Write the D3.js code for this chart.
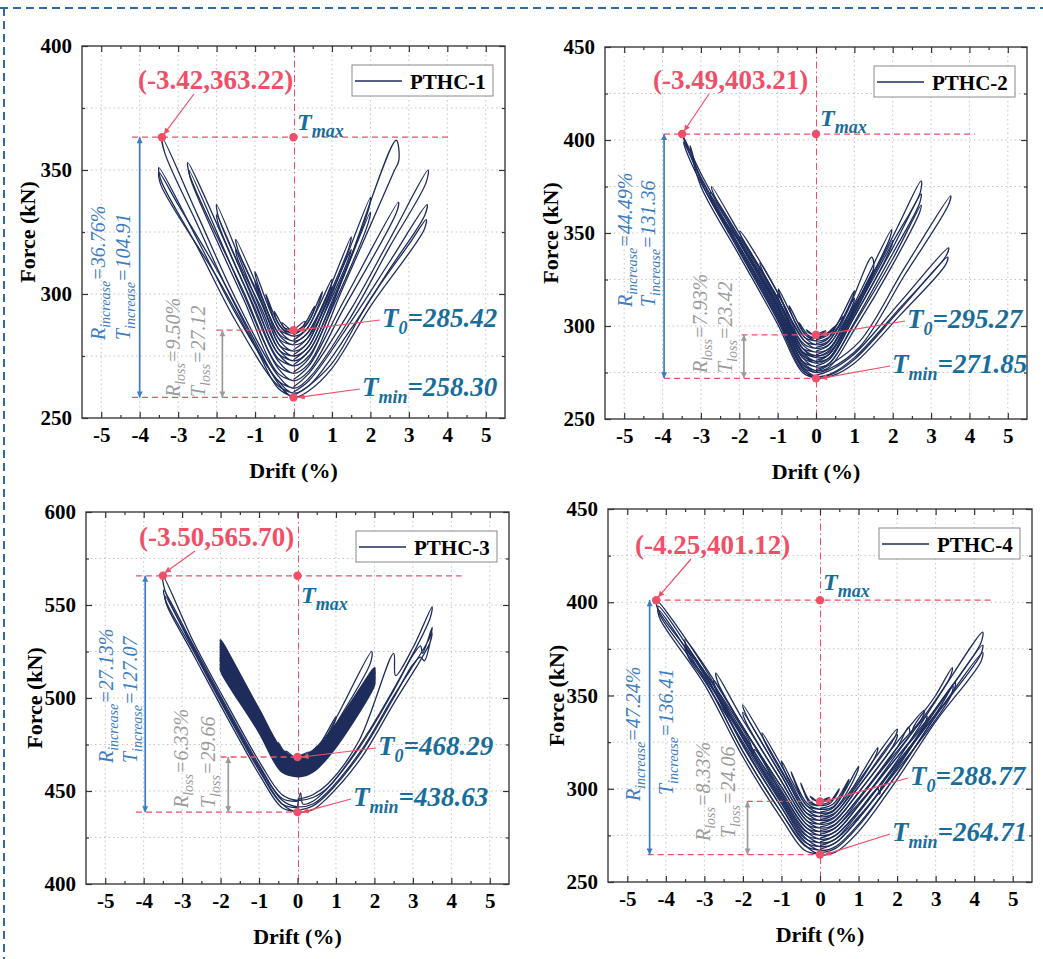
<!DOCTYPE html>
<html><head><meta charset="utf-8">
<script src="https://cdn.jsdelivr.net/npm/d3@7"></script>
<style>body{margin:0;background:#fff}svg{display:block}</style>
</head><body>
<svg id="chart" width="1043" height="959"></svg>
<script>
// ---------------- DATA ----------------
const specimens = ["PTHC-1", "PTHC-2", "PTHC-3", "PTHC-4"];
const xTicks = [-5, -4, -3, -2, -1, 0, 1, 2, 3, 4, 5];
const xMinorTicks = [-4.5, -3.5, -2.5, -1.5, -0.5, 0.5, 1.5, 2.5, 3.5, 4.5];
const xDomain = [-5.5, 5.5];
const yDomains = [[250, 400], [250, 450], [400, 600], [250, 450]];
const yTicksList = [[250, 300, 350, 400], [250, 300, 350, 400, 450], [400, 450, 500, 550, 600], [250, 300, 350, 400, 450]];

const peakDrift = [-3.42, -3.49, -3.50, -4.25];
const peakForce = [363.22, 403.21, 565.70, 401.12];
const peakText = ["(-3.42,363.22)", "(-3.49,403.21)", "(-3.50,565.70)", "(-4.25,401.12)"];
const t0Text = ["285.42", "295.27", "468.29", "288.77"];
const t0Marker = [285.42, 295.27, 468.29, 293.2];
const tminForce = [258.30, 271.85, 438.63, 264.71];
const tminText = ["258.30", "271.85", "438.63", "264.71"];
const rIncrease = ["36.76%", "44.49%", "27.13%", "47.24%"];
const tIncrease = ["104.91", "131.36", "127.07", "136.41"];
const rLoss = ["9.50%", "7.93%", "6.33%", "8.33%"];
const tLoss = ["27.12", "23.42", "29.66", "24.06"];

const pthc1Loops = [
 [[0,285.4],[0.3,289],[0.25,287],[0,285],[-0.3,288.5],[-0.25,286.5],[0,285.2]],
 [[0,284.5],[0.25,287],[0.55,295],[0.5,292],[0.25,286],[0,284],[-0.25,286.5],[-0.5,293],[-0.45,290],[-0.25,285.5],[0,284]],
 [[0,283.5],[0.35,288],[0.75,301],[0.7,298],[0.35,286],[0,283],[-0.35,287],[-0.72,300],[-0.67,297],[-0.35,285.5],[0,283]],
 [[0,281.5],[0.35,286],[1.0,306],[0.95,302],[0.35,284],[0,281],[-0.35,285],[-1.0,309],[-0.95,305],[-0.35,283.5],[0,281]],
 [[0,280],[0.35,284],[1.0,303],[0.95,300],[0.35,282],[0,279.5],[-0.35,283],[-1.0,305],[-0.95,302],[-0.35,281.5],[0,279.5]],
 [[0,277.5],[0.35,282],[0.8,297],[1.5,323],[1.45,319],[0.8,295],[0.35,280],[0,277],[-0.35,281],[-0.8,298],[-1.5,322],[-1.45,318],[-0.8,296],[-0.35,279],[0,277]],
 [[0,275.5],[0.35,280],[0.8,294],[1.5,318],[1.45,315],[0.8,292],[0.35,278],[0,275],[-0.35,279],[-0.8,295],[-1.5,318],[-1.45,314],[-0.8,293],[-0.35,277],[0,275]],
 [[0,273.5],[0.4,279],[1.0,300],[2.0,339],[1.95,334],[1.0,297],[0.4,277],[0,273],[-0.4,278],[-1.0,299],[-2.0,336],[-1.95,331],[-1.0,297],[-0.4,276],[0,273]],
 [[0,271.5],[0.4,277],[1.0,296],[2.0,333],[1.95,329],[1.0,294],[0.4,275],[0,271],[-0.4,276],[-1.0,296],[-2.0,332],[-1.95,328],[-1.0,294],[-0.4,274],[0,271]],
 [[0,268.5],[0.4,274],[1.3,307],[2.67,362],[2.74,354],[2.6,349],[1.3,303],[0.4,272],[0,268],[-0.4,273],[-1.3,304],[-2.75,353],[-2.7,348],[-1.3,301],[-0.4,271],[0,268]],
 [[0,265.5],[0.4,271],[1.3,297],[2.73,337],[2.68,333],[1.3,294],[0.4,269],[0,265],[-0.4,270],[-1.3,300],[-2.72,350],[-2.67,346],[-1.3,298],[-0.4,268],[0,265]],
 [[0,262.5],[0.4,268],[1.5,294],[2.5,322],[3.5,350],[3.45,345],[2.5,319],[1.5,291],[0.4,266],[0,262],[-0.4,267],[-1.5,298],[-2.5,332],[-3.42,363.22],[-3.35,357],[-2.5,328],[-1.5,295],[-0.4,265],[0,262]],
 [[0,260.5],[0.4,265],[1.5,289],[2.5,313],[3.47,336],[3.42,332],[2.5,310],[1.5,286],[0.4,263],[0,260],[-0.4,265],[-1.5,292],[-2.5,322],[-3.5,351],[-3.45,346],[-2.5,319],[-1.5,289],[-0.4,263],[0,260]],
 [[0,259],[0.4,263],[1.0,272],[2.0,298],[3.0,320],[3.45,330],[3.4,326],[2.0,295],[1.0,270],[0.4,261],[0,258.3],[-0.4,264],[-1.0,281],[-2.0,310],[-3.0,336],[-3.5,349],[-3.45,344],[-2.0,307],[-1.0,279],[-0.4,262],[0,258.5]]
];

const pthc2Loops = [
 [[0,295.3],[0.25,297.5],[0.2,296.5],[0,294.5],[-0.25,298],[-0.2,296.5],[0,294.8]],
 [[0,294],[0.25,295.5],[0.5,300],[0.45,298],[0.2,294.5],[0,293.5],[-0.2,295],[-0.45,302],[-0.4,299],[-0.2,294],[0,293.5]],
 [[0,292.5],[0.3,295],[0.7,305],[0.65,302],[0.3,293.5],[0,292],[-0.3,296],[-0.7,311],[-0.65,307],[-0.3,294],[0,292]],
 [[0,290.5],[0.3,293],[1.0,319],[0.95,315],[0.3,291.5],[0,290],[-0.3,294],[-0.98,320],[-0.93,316],[-0.3,292],[0,290]],
 [[0,288.5],[0.3,291],[1.0,315],[0.95,311],[0.3,289.5],[0,288],[-0.3,292],[-1.0,317],[-0.95,313],[-0.3,290],[0,288]],
 [[0,286.5],[0.35,290],[0.8,307],[1.45,337],[1.5,331],[0.8,304],[0.35,288],[0,286],[-0.35,290],[-0.8,310],[-1.46,334],[-1.4,330],[-0.8,307],[-0.35,288],[0,286]],
 [[0,284.5],[0.35,288],[0.8,302],[1.5,330],[1.45,326],[0.8,299],[0.35,286],[0,284],[-0.35,288],[-0.8,306],[-1.5,331],[-1.45,327],[-0.8,303],[-0.35,286],[0,284]],
 [[0,283.5],[0.35,287],[1.0,312],[1.97,352],[1.92,347],[1.0,309],[0.35,285],[0,283],[-0.35,288],[-1.0,318],[-1.98,351],[-1.93,347],[-1.0,315],[-0.35,286],[0,283]],
 [[0,281.5],[0.35,285],[1.0,308],[2.0,346],[1.95,342],[1.0,305],[0.35,283],[0,281],[-0.35,286],[-1.0,315],[-2.0,348],[-1.95,344],[-1.0,312],[-0.35,284],[0,281]],
 [[0,280.5],[0.35,285],[1.0,310],[2.0,348],[2.74,378],[2.72,372],[2.0,345],[1.0,307],[0.35,283],[0,280],[-0.35,285],[-1.0,314],[-2.0,350],[-2.72,375],[-2.67,371],[-2.0,347],[-1.0,311],[-0.35,283],[0,280]],
 [[0,278.5],[0.35,282],[1.0,305],[2.0,342],[2.74,371],[2.7,366],[2.0,339],[1.0,302],[0.35,280],[0,278],[-0.35,283],[-1.0,312],[-2.0,348],[-2.75,372],[-2.7,367],[-2.0,345],[-1.0,309],[-0.35,281],[0,278]],
 [[0,276.5],[0.35,280],[1.0,301],[2.0,336],[2.74,365],[2.7,361],[2.0,333],[1.0,298],[0.35,278],[0,276],[-0.35,281],[-1.0,310],[-2.0,346],[-2.75,370],[-2.7,366],[-2.0,343],[-1.0,307],[-0.35,279],[0,276]],
 [[0,275.5],[0.35,279],[1.15,292],[2.3,331],[3.51,370],[3.45,365],[2.3,327],[1.15,289],[0.35,277],[0,275],[-0.35,280],[-1.0,308],[-2.0,345],[-3.0,382],[-3.49,403.21],[-3.4,398],[-3.0,379],[-2.0,342],[-1.0,305],[-0.35,278],[0,275]],
 [[0,273.5],[0.35,276],[1.0,285],[2.2,313],[3.45,342],[3.4,338],[2.2,310],[1.0,283],[0.35,274],[0,273],[-0.35,278],[-1.0,306],[-2.0,343],[-3.0,380],[-3.45,399],[-3.38,394],[-3.0,377],[-2.0,340],[-1.0,303],[-0.35,276],[0,273]],
 [[0,272.5],[0.4,274],[1.0,282],[2.2,309],[3.43,337],[3.38,333],[2.2,306],[1.0,280],[0.4,273],[0,271.85],[-0.35,277],[-1.0,304],[-2.0,341],[-3.0,378],[-3.28,397],[-3.25,393],[-3.0,375],[-2.0,338],[-1.0,301],[-0.35,275],[0,272]]
];

const pthc3Loops = [
 [[0,468.3],[0.3,471],[0.25,469.5],[0,467.5],[-0.3,471.5],[-0.25,469.5],[0,468]],
 [[0,467.5],[0.3,469],[0.5,474],[0.45,472],[0.25,468],[0,467],[-0.25,468.5],[-0.5,476],[-0.45,473],[-0.25,468],[0,467]],
 [[0,466.5],[0.4,470],[1.0,490],[0.95,486],[0.4,468],[0,466],[-0.4,470],[-1.0,494],[-0.95,490],[-0.4,468.5],[0,466]],
 [[0,468],[0.4,471.5],[1.0,485.5],[2.0,516],[1.95,513],[1.0,483.5],[0.4,470],[0,467.5],[-0.4,472],[-1.0,493.5],[-2.0,531],[-1.95,528],[-1.0,491.5],[-0.4,470],[0,467.5]],
 [[0,466.5],[0.4,470],[1.0,484],[2.0,515],[1.95,512],[1.0,482],[0.4,468.5],[0,466],[-0.4,470.5],[-1.0,492],[-2.0,529],[-1.95,526],[-1.0,490],[-0.4,468.5],[0,466]],
 [[0,465.5],[0.4,469],[1.0,483],[2.0,514],[1.95,511],[1.0,481],[0.4,467.5],[0,465],[-0.4,469.5],[-1.0,491],[-2.0,527.5],[-1.95,524.5],[-1.0,489],[-0.4,467.5],[0,465]],
 [[0,464.5],[0.4,468],[1.0,482],[2.0,513.5],[1.95,510.5],[1.0,480],[0.4,466.5],[0,464],[-0.4,468.5],[-1.0,490],[-2.0,526],[-1.95,523],[-1.0,488],[-0.4,466.5],[0,464]],
 [[0,463.5],[0.4,467],[1.0,481],[2.0,512.5],[1.95,509.5],[1.0,479],[0.4,465.5],[0,463],[-0.4,467.5],[-1.0,489],[-2.0,524.5],[-1.95,521.5],[-1.0,487],[-0.4,465.5],[0,463]],
 [[0,462.5],[0.4,466],[1.0,480],[2.0,511.5],[1.95,508.5],[1.0,478],[0.4,464.5],[0,462],[-0.4,466.5],[-1.0,488],[-2.0,523],[-1.95,520],[-1.0,486],[-0.4,464.5],[0,462]],
 [[0,461.5],[0.4,465],[1.0,479],[2.0,511],[1.95,508],[1.0,477],[0.4,463.5],[0,461],[-0.4,465.5],[-1.0,487],[-2.0,521.5],[-1.95,518.5],[-1.0,485],[-0.4,463.5],[0,461]],
 [[0,460.5],[0.4,464],[1.0,478],[2.0,510],[1.95,507],[1.0,476],[0.4,462.5],[0,460],[-0.4,464.5],[-1.0,486],[-2.0,520],[-1.95,517],[-1.0,484],[-0.4,462.5],[0,460]],
 [[0,459.5],[0.4,463],[1.0,477],[2.0,509],[1.95,506],[1.0,475],[0.4,461.5],[0,459],[-0.4,463.5],[-1.0,485],[-2.0,518],[-1.95,515],[-1.0,483],[-0.4,461.5],[0,459]],
 [[0,458.5],[0.4,462],[1.0,476],[2.0,508],[1.95,505],[1.0,474],[0.4,460.5],[0,458],[-0.4,462.5],[-1.0,484],[-2.0,516],[-1.95,513],[-1.0,482],[-0.4,460.5],[0,458]],
 [[0,462.5],[0.4,467],[1.0,489],[1.93,525],[1.9,519],[1.0,486],[0.4,465],[0,462]],
 [[0,445.5],[0.4,448],[0.8,454],[1.6,477],[2.5,524],[2.55,512],[3.0,527],[3.5,549],[3.45,543],[2.8,516],[1.6,474],[0.8,452],[0.4,446.5],[0,445],[-0.4,448],[-0.97,465],[-1.84,497],[-2.7,530],[-3.5,565.7],[-3.45,558],[-2.7,527],[-1.84,494],[-0.97,462],[-0.4,446],[0,444.5]],
 [[0,442],[0.08,449],[0.14,443],[0.4,444.5],[0.76,451],[1.63,474],[2.5,504],[3.0,523],[3.2,528],[3.25,524],[3.5,538],[3.45,533],[2.5,501],[1.63,471],[0.76,449],[0.4,443],[0,441.5],[-0.4,445],[-0.97,463],[-1.84,495],[-2.7,528],[-3.48,558],[-3.42,552],[-2.7,525],[-1.84,492],[-0.97,460],[-0.4,443],[0,441]],
 [[0,439.5],[0.4,442],[0.76,448],[1.63,470],[2.5,500],[3.0,518],[3.2,522],[3.3,520],[3.5,535],[3.45,530],[2.5,497],[1.63,467],[0.76,446],[0.4,440],[0,438.63],[-0.4,443],[-0.97,461],[-1.84,493],[-2.7,526],[-3.45,555],[-3.4,550],[-2.7,523],[-1.84,490],[-0.97,458],[-0.4,441],[0,439]]
];

const pthc4Loops = [
 [[0,293.2],[0.25,295.5],[0.2,294.5],[0,292.5],[-0.25,296],[-0.2,294.5],[0,293]],
 [[0,291.5],[0.25,293],[0.5,300],[0.45,297.5],[0.25,292],[0,291],[-0.25,293],[-0.5,303],[-0.45,300],[-0.25,292],[0,291]],
 [[0,289.5],[0.35,292],[0.75,305],[0.7,302],[0.35,290.5],[0,289],[-0.35,292.5],[-0.75,309],[-0.7,306],[-0.35,291],[0,289]],
 [[0,287.5],[0.35,290],[1.0,312],[0.95,308],[0.35,288.5],[0,287],[-0.35,291],[-1.0,315],[-0.95,311],[-0.35,289],[0,287]],
 [[0,285.5],[0.35,288],[0.8,299],[1.5,322],[1.45,318],[0.8,297],[0.35,286.5],[0,285],[-0.35,289],[-0.8,305],[-1.5,330],[-1.45,326],[-0.8,302],[-0.35,287],[0,285]],
 [[0,283.5],[0.35,286],[1.0,304],[2.0,332],[1.95,328],[1.0,301],[0.35,284.5],[0,283],[-0.35,287],[-1.0,310],[-2.0,345],[-1.95,341],[-1.0,307],[-0.35,285],[0,283]],
 [[0,281.5],[0.35,284],[1.0,301],[2.0,329],[1.95,325],[1.0,298],[0.35,282.5],[0,281],[-0.35,285],[-1.0,307],[-2.0,341],[-1.95,337],[-1.0,304],[-0.35,283],[0,281]],
 [[0,279.5],[0.35,282],[1.0,298],[2.0,325],[2.7,342],[2.65,338],[2.0,322],[1.0,295],[0.35,280.5],[0,279],[-0.35,283],[-1.0,304],[-2.0,337],[-2.7,362],[-2.65,357],[-2.0,333],[-1.0,301],[-0.35,281],[0,279]],
 [[0,277.5],[0.35,280],[1.0,295],[2.0,320],[2.77,339],[2.72,335],[2.0,317],[1.0,292],[0.35,278.5],[0,277],[-0.35,281],[-1.0,301],[-2.0,333],[-2.75,358],[-2.7,353],[-2.0,329],[-1.0,298],[-0.35,279],[0,277]],
 [[0,275.5],[0.4,279],[1.0,294],[2.0,322],[2.3,333],[2.35,329],[2.45,334],[3.0,350],[3.43,365],[3.38,360],[2.0,319],[1.0,291],[0.4,277],[0,275],[-0.4,280],[-1.0,299],[-2.0,333],[-3.0,366],[-3.5,380],[-3.45,375],[-3.0,363],[-2.0,330],[-1.0,296],[-0.4,277.5],[0,275]],
 [[0,273.5],[0.4,277],[1.0,291],[2.0,317],[3.0,343],[3.51,357],[3.46,352],[3.0,340],[2.0,314],[1.0,288],[0.4,275],[0,273],[-0.4,278],[-1.0,297],[-1.7,321],[-1.75,318],[-1.8,324],[-3.0,363],[-3.5,377],[-3.45,372],[-3.0,360],[-2.0,327],[-1.0,294],[-0.4,275.5],[0,273]],
 [[0,271.5],[0.4,275],[1.0,288],[1.5,300],[1.55,297],[1.6,302],[2.0,313],[3.0,340],[3.45,355],[3.4,350],[3.0,337],[2.0,310],[1.0,285],[0.4,273],[0,271],[-0.4,276],[-1.0,295],[-2.0,328],[-3.0,361],[-3.45,375],[-3.4,370],[-3.0,358],[-2.0,325],[-1.0,292],[-0.4,273.5],[0,271]],
 [[0,269.5],[0.4,273],[1.0,287],[2.0,315],[3.0,347],[4.22,384],[4.17,378],[3.0,343],[2.0,312],[1.0,284],[0.4,271],[0,269],[-0.4,274],[-1.0,293],[-2.0,327],[-3.0,365],[-4.25,401.12],[-4.2,396],[-3.0,362],[-2.0,324],[-1.0,290],[-0.4,271.5],[0,269]],
 [[0,267.5],[0.4,271],[1.0,284],[2.0,311],[3.0,342],[4.22,377],[4.17,372],[3.0,339],[2.0,308],[1.0,281],[0.4,269],[0,267],[-0.4,272],[-1.0,290],[-2.0,323],[-3.0,362],[-4.2,398],[-4.15,393],[-3.0,359],[-2.0,320],[-1.0,287],[-0.4,269.5],[0,267]],
 [[0,265.5],[0.4,268],[1.0,280],[2.0,308],[3.0,339],[4.22,373],[4.17,368],[3.0,336],[2.0,305],[1.0,277],[0.4,266],[0,264.71],[-0.4,270],[-1.0,287],[-2.0,320],[-3.0,359],[-4.2,396],[-4.15,391],[-3.0,356],[-2.0,317],[-1.0,284],[-0.4,267],[0,265]]
];
const allLoops = [pthc1Loops, pthc2Loops, pthc3Loops, pthc4Loops];

// ---------------- LAYOUT ----------------
const frames = [
  {l: 82, t: 46, r: 505, b: 418, yTitle: 47},
  {l: 605, t: 47, r: 1027, b: 419, yTitle: 47},
  {l: 86, t: 512, r: 509, b: 884, yTitle: 44},
  {l: 608, t: 509, r: 1032, b: 882, yTitle: 44}
];
// loops drawn heavier because the original trace is a dense band there
const denseRange = [null, null, [3, 12], null];
const tmaxLineX = [[-4.2, 4.12], [-3.96, 4.15], [-4.2, 4.27], [-4.29, 4.42]];
const tminLineX = [[-4.2, 0.3], [-3.96, 0.25], [-4.2, 0.25], [-4.47, 0.25]];
const t0LineX = [[-2.0, 0.35], [-1.94, 0.25], [-2.0, 0.25], [-1.9, 0.25]];
const blueArrowX = [-4, -3.96, -3.96, -4.42];
const grayArrowX = [-1.85, -1.88, -1.8, -1.88];
const peakLabelPos = [[138, 89], [653, 89], [139, 546], [635, 554]];
const tmaxLabelPos = [[297, 130], [820, 126], [301, 603], [823, 590]];
const t0LabelPos = [[382, 327], [907, 328], [378, 755], [910, 785]];
const tminLabelPos = [[362, 396], [892, 373], [353, 806], [892, 841]];
const rIncPos = [[105, 340], [632, 307], [113, 763], [640, 801]];
const tIncPos = [[130, 340], [655, 307], [137, 763], [673, 795]];
const rLossPos = [[180, 397], [707, 373], [188, 808], [710, 841]];
const tLossPos = [[205, 397], [732, 373], [215, 808], [735, 838]];

const SERIF = '"Liberation Serif","Times New Roman",Times,serif';
const RED = '#ef5068', TEAL = '#186d9a', BLUE = '#3d7cc0', GRAY = '#9b9b9b', NAVY = '#1f2d5c';

const svg = d3.select('#chart');
const defs = svg.append('defs');
function marker(id, color, w, h) {
  defs.append('marker').attr('id', id).attr('viewBox', '0 0 10 10')
    .attr('refX', 10).attr('refY', 5).attr('markerWidth', w).attr('markerHeight', h)
    .attr('markerUnits', 'userSpaceOnUse').attr('orient', 'auto-start-reverse')
    .append('path').attr('d', 'M0,0 L10,5 L0,10 Z').attr('fill', color);
}
marker('arR', RED, 9, 6);
marker('arB', BLUE, 11, 6);
marker('arG', GRAY, 11, 6);

// outer dashed border
svg.append('line').attr('x1', 0).attr('x2', 1043).attr('y1', 8).attr('y2', 8)
  .attr('stroke', '#2f6aa6').attr('stroke-width', 2).attr('stroke-dasharray', '8,5');
svg.append('line').attr('x1', 4).attr('x2', 4).attr('y1', 8).attr('y2', 959)
  .attr('stroke', '#2f6aa6').attr('stroke-width', 2).attr('stroke-dasharray', '8,5');

function tLabel(g, pos, sub, value, mainSize, subSize) {
  const t = g.append('text').attr('x', pos[0]).attr('y', pos[1])
    .attr('font-family', SERIF).attr('font-weight', 'bold').attr('font-style', 'italic')
    .attr('font-size', mainSize).attr('fill', TEAL);
  t.append('tspan').text('T');
  t.append('tspan').attr('font-size', subSize).attr('dy', subSize * 0.4).text(sub);
  if (value) t.append('tspan').attr('dy', -subSize * 0.4).text('=' + value);
}
function rotLabel(g, pos, main, sub, rest, color) {
  const t = g.append('text').attr('transform', `translate(${pos[0]},${pos[1]}) rotate(-90)`)
    .attr('font-family', SERIF).attr('font-style', 'italic').attr('font-size', 20).attr('fill', color);
  t.append('tspan').text(main);
  t.append('tspan').attr('font-size', 14).attr('dy', 5).text(sub);
  t.append('tspan').attr('dy', -5).text(rest);
}

function drawPanel(i) {
  const f = frames[i];
  const x = d3.scaleLinear().domain(xDomain).range([f.l, f.r]);
  const y = d3.scaleLinear().domain(yDomains[i]).range([f.b, f.t]);
  const [y0, y1] = yDomains[i];
  const g = svg.append('g');

  // grid (none at zero drift: the red dash-dot line sits there)
  g.append('g').selectAll('line').data(xTicks.filter(d => d !== 0)).join('line')
    .attr('x1', d => x(d)).attr('x2', d => x(d)).attr('y1', f.t).attr('y2', f.b)
    .attr('stroke', '#c4c4c4').attr('stroke-width', 1).attr('stroke-dasharray', '1.5,3');
  g.append('g').selectAll('line').data(d3.range(y0 + 25, y1, 25)).join('line')
    .attr('x1', f.l).attr('x2', f.r).attr('y1', d => y(d)).attr('y2', d => y(d))
    .attr('stroke', '#c4c4c4').attr('stroke-width', 1).attr('stroke-dasharray', '1.5,3');

  // vertical dash-dot at zero drift (pixel-snapped for a crisp line)
  const zx = Math.round(x(0)) + 0.5;
  g.append('line').attr('x1', zx).attr('x2', zx).attr('y1', f.t).attr('y2', f.b)
    .attr('stroke', RED).attr('stroke-width', 1).attr('stroke-dasharray', '7,3,1.5,3');

  // legend box
  const lx = f.r - 153, ly = f.t + 19;
  g.append('rect').attr('x', lx).attr('y', ly).attr('width', 141).attr('height', 31)
    .attr('fill', '#fff').attr('stroke', '#8a8a8a').attr('stroke-width', 1);
  g.append('line').attr('x1', lx + 3).attr('x2', lx + 50).attr('y1', ly + 16).attr('y2', ly + 16)
    .attr('stroke', NAVY).attr('stroke-width', 1.3);
  g.append('text').attr('x', lx + 58).attr('y', ly + 23.5).attr('font-family', SERIF)
    .attr('font-weight', 'bold').attr('font-size', 21).attr('fill', '#000').text(specimens[i]);

  // curves
  const line = d3.line().x(d => x(d[0])).y(d => y(d[1])).curve(d3.curveCatmullRom.alpha(0.5));
  const dr = denseRange[i];
  g.append('g').selectAll('path').data(allLoops[i]).join('path')
    .attr('d', line).attr('fill', 'none').attr('stroke', NAVY)
    .attr('stroke-width', (d, k) => dr && k >= dr[0] && k <= dr[1] ? 2.6 : 1.3)
    .attr('stroke-linejoin', 'round');

  // dashed reference lines
  const dash = (xs, v) => g.append('line').attr('x1', x(xs[0])).attr('x2', x(xs[1]))
    .attr('y1', y(v)).attr('y2', y(v)).attr('stroke', RED).attr('stroke-width', 1.3)
    .attr('stroke-dasharray', '6,4');
  dash(tmaxLineX[i], peakForce[i]);
  dash(t0LineX[i], t0Marker[i]);
  dash(tminLineX[i], tminForce[i]);

  // double arrows
  g.append('line').attr('x1', x(blueArrowX[i])).attr('x2', x(blueArrowX[i]))
    .attr('y1', y(peakForce[i])).attr('y2', y(tminForce[i]))
    .attr('stroke', BLUE).attr('stroke-width', 1.7)
    .attr('marker-start', 'url(#arB)').attr('marker-end', 'url(#arB)');
  g.append('line').attr('x1', x(grayArrowX[i])).attr('x2', x(grayArrowX[i]))
    .attr('y1', y(t0Marker[i])).attr('y2', y(tminForce[i]))
    .attr('stroke', GRAY).attr('stroke-width', 1.7)
    .attr('marker-start', 'url(#arG)').attr('marker-end', 'url(#arG)');

  // dots
  const dots = [[peakDrift[i], peakForce[i]], [0, peakForce[i]], [0, t0Marker[i]], [0, tminForce[i]]];
  g.append('g').selectAll('circle').data(dots).join('circle')
    .attr('cx', d => x(d[0])).attr('cy', d => y(d[1])).attr('r', 4.2).attr('fill', RED);

  // peak label + arrow
  const pl = peakLabelPos[i];
  g.append('text').attr('x', pl[0]).attr('y', pl[1]).attr('font-family', SERIF)
    .attr('font-weight', 'bold').attr('font-size', 27).attr('fill', RED).text(peakText[i]);
  g.append('line').attr('x1', pl[0] + 56).attr('y1', pl[1] + 5)
    .attr('x2', x(peakDrift[i]) + 2).attr('y2', y(peakForce[i]) - 3)
    .attr('stroke', RED).attr('stroke-width', 1.2).attr('marker-end', 'url(#arR)');

  // T labels
  tLabel(g, tmaxLabelPos[i], 'max', null, 24, 18);
  tLabel(g, t0LabelPos[i], '0', t0Text[i], 27, 18);
  tLabel(g, tminLabelPos[i], 'min', tminText[i], 27, 18);
  g.append('line').attr('x1', t0LabelPos[i][0] - 2).attr('y1', t0LabelPos[i][1] - 7)
    .attr('x2', x(0) + 5).attr('y2', y(t0Marker[i]))
    .attr('stroke', RED).attr('stroke-width', 1.2).attr('marker-end', 'url(#arR)');
  g.append('line').attr('x1', tminLabelPos[i][0] - 2).attr('y1', tminLabelPos[i][1] - 7)
    .attr('x2', x(0) + 5).attr('y2', y(tminForce[i]))
    .attr('stroke', RED).attr('stroke-width', 1.2).attr('marker-end', 'url(#arR)');

  // rotated annotations
  rotLabel(g, rIncPos[i], 'R', 'increase', '=' + rIncrease[i], BLUE);
  rotLabel(g, tIncPos[i], 'T', 'increase', '=' + tIncrease[i], BLUE);
  rotLabel(g, rLossPos[i], 'R', 'loss', '=' + rLoss[i], GRAY);
  rotLabel(g, tLossPos[i], 'T', 'loss', '=' + tLoss[i], GRAY);

  // frame
  g.append('rect').attr('x', f.l).attr('y', f.t).attr('width', f.r - f.l).attr('height', f.b - f.t)
    .attr('fill', 'none').attr('stroke', '#3c3c3c').attr('stroke-width', 1.4);

  // axes
  const fmt = d => String(d);
  const yMinor = d3.range(y0 + 25, y1, 50);
  const ax = g.append('g');
  ax.append('g').attr('transform', `translate(0,${f.b})`)
    .call(d3.axisBottom(x).tickValues(xTicks).tickSize(-6).tickPadding(9).tickFormat(fmt));
  ax.append('g').attr('transform', `translate(0,${f.b})`)
    .call(d3.axisBottom(x).tickValues(xMinorTicks).tickSize(-3).tickFormat(''));
  ax.append('g').attr('transform', `translate(0,${f.t})`)
    .call(d3.axisTop(x).tickValues(xTicks).tickSize(-6).tickFormat(''));
  ax.append('g').attr('transform', `translate(0,${f.t})`)
    .call(d3.axisTop(x).tickValues(xMinorTicks).tickSize(-3).tickFormat(''));
  ax.append('g').attr('transform', `translate(${f.l},0)`)
    .call(d3.axisLeft(y).tickValues(yTicksList[i]).tickSize(-6).tickPadding(10).tickFormat(fmt));
  ax.append('g').attr('transform', `translate(${f.l},0)`)
    .call(d3.axisLeft(y).tickValues(yMinor).tickSize(-3).tickFormat(''));
  ax.append('g').attr('transform', `translate(${f.r},0)`)
    .call(d3.axisRight(y).tickValues(yTicksList[i]).tickSize(-6).tickFormat(''));
  ax.append('g').attr('transform', `translate(${f.r},0)`)
    .call(d3.axisRight(y).tickValues(yMinor).tickSize(-3).tickFormat(''));
  ax.selectAll('.domain').remove();
  ax.selectAll('.tick line').attr('stroke', '#333').attr('stroke-width', 1.2);
  ax.selectAll('.tick text').attr('font-family', SERIF).attr('font-weight', 'bold')
    .attr('font-size', 21).attr('fill', '#000');

  // axis titles
  g.append('text').attr('x', (f.l + f.r) / 2).attr('y', f.b + 60).attr('text-anchor', 'middle')
    .attr('font-family', SERIF).attr('font-weight', 'bold').attr('font-size', 22).text('Drift (%)');
  g.append('text').attr('transform', `translate(${f.l - f.yTitle},${(f.t + f.b) / 2}) rotate(-90)`)
    .attr('text-anchor', 'middle').attr('font-family', SERIF).attr('font-weight', 'bold')
    .attr('font-size', 22).text('Force (kN)');
}

[0, 1, 2, 3].forEach(drawPanel);
</script>
</body></html>
